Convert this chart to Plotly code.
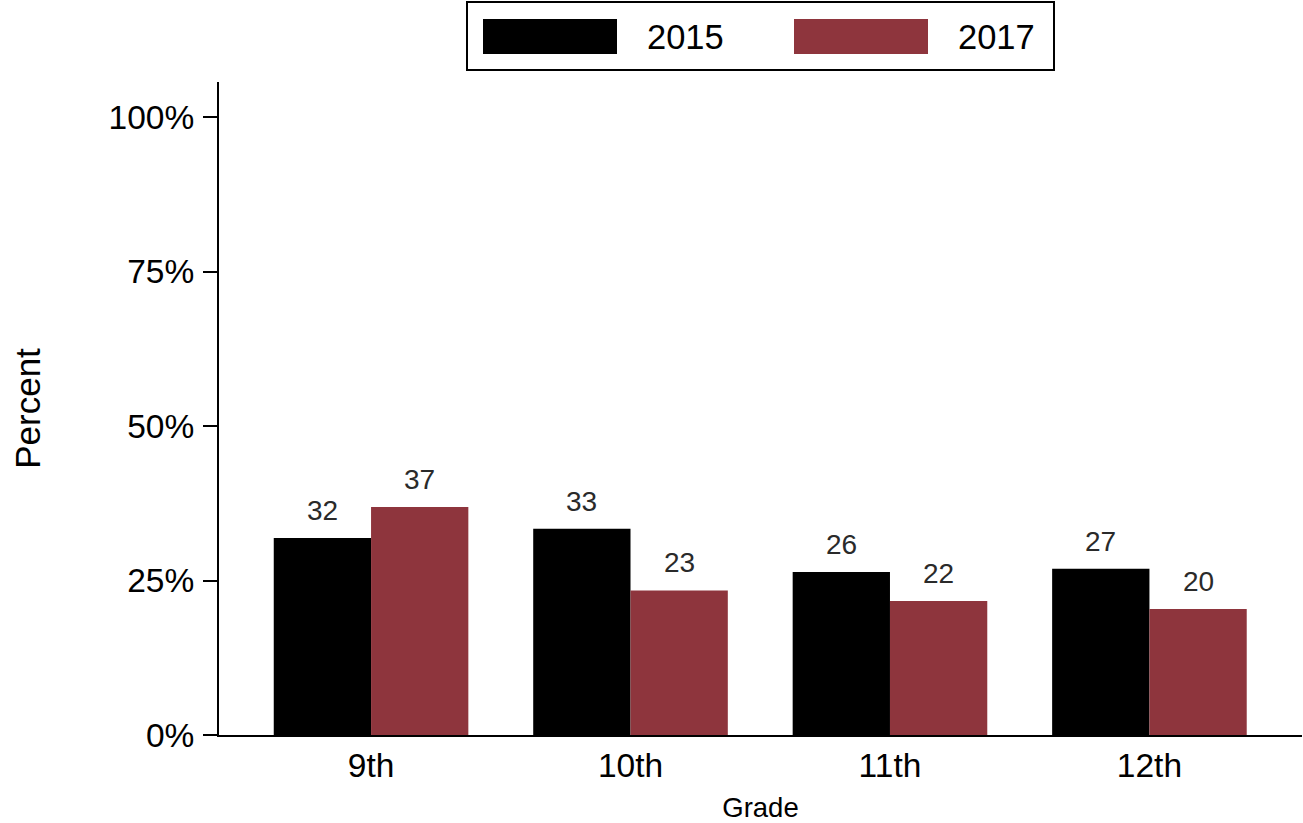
import plotly.graph_objects as go

grades = ["9th", "10th", "11th", "12th"]
vals_2015 = [31.9, 33.4, 26.4, 26.9]
vals_2017 = [36.9, 23.4, 21.7, 20.4]
labels_2015 = ["32", "33", "26", "27"]
labels_2017 = ["37", "23", "22", "20"]
series_names = ["2015", "2017"]
y_ticks = [0, 25, 50, 75, 100]
y_tick_text = ["0%", "25%", "50%", "75%", "100%"]

BLACK = "#000000"
MAROON = "#8e353d"
FONT = "Liberation Sans, Arial, Helvetica, sans-serif"

W, H = 1303, 823
L, R, T, B = 219, 1, 82, 88
pw, ph = W - L - R, H - T - B

def px_x(x):
    return (x - L) / pw

def px_y(y):
    return (H - B - y) / ph

fig = go.Figure()
fig.add_trace(go.Bar(x=grades, y=vals_2015, name=series_names[0],
                     marker=dict(color=BLACK, line=dict(width=0)), showlegend=False))
fig.add_trace(go.Bar(x=grades, y=vals_2017, name=series_names[1],
                     marker=dict(color=MAROON, line=dict(width=0)), showlegend=False))

annotations = []
bargap = 0.25
half = (1 - bargap) / 4
for i, g in enumerate(grades):
    for vals, labs, off in ((vals_2015, labels_2015, -half), (vals_2017, labels_2017, half)):
        annotations.append(dict(x=i + off, y=vals[i], xref="x", yref="y", text=labs[i],
                                showarrow=False, yanchor="middle", yshift=27.5,
                                font=dict(family=FONT, size=28, color="#2a2a2a")))

# custom legend
shapes = [
    dict(type="rect", xref="paper", yref="paper", x0=px_x(467), x1=px_x(1054),
         y0=px_y(70), y1=px_y(2), line=dict(color="black", width=2), fillcolor="white", layer="above"),
    dict(type="rect", xref="paper", yref="paper", x0=px_x(483), x1=px_x(617),
         y0=px_y(54), y1=px_y(19), line=dict(width=0), fillcolor=BLACK, layer="above"),
    dict(type="rect", xref="paper", yref="paper", x0=px_x(794), x1=px_x(928),
         y0=px_y(54), y1=px_y(19), line=dict(width=0), fillcolor=MAROON, layer="above"),
    # x axis line extension under y ticks
    dict(type="line", xref="paper", yref="paper", x0=px_x(205), x1=0, y0=0, y1=0,
         line=dict(color="black", width=2)),
]
annotations.append(dict(x=px_x(645), y=px_y(37), xref="paper", yref="paper", text=series_names[0],
                        showarrow=False, xanchor="left", yanchor="middle",
                        font=dict(family=FONT, size=34.5, color="black")))
annotations.append(dict(x=px_x(956), y=px_y(37), xref="paper", yref="paper", text=series_names[1],
                        showarrow=False, xanchor="left", yanchor="middle",
                        font=dict(family=FONT, size=34.5, color="black")))

fig.update_layout(
    width=W, height=H,
    margin=dict(l=L, r=R, t=T, b=B, pad=0),
    paper_bgcolor="white", plot_bgcolor="white",
    barmode="group", bargap=bargap, bargroupgap=0,
    font=dict(family=FONT, color="black"),
    shapes=shapes, annotations=annotations,
    showlegend=False,
    xaxis=dict(
        range=[-0.586, 3.588], showgrid=False, zeroline=False,
        showline=True, linecolor="black", linewidth=2,
        ticks="", tickfont=dict(size=33.5, color="black"),
        ticklabelstandoff=0,
        title=dict(text="Grade", font=dict(size=27.5, color="black"), standoff=20),
    ),
    yaxis=dict(
        range=[0, 105.7], showgrid=False, zeroline=False,
        showline=True, linecolor="black", linewidth=2,
        ticks="outside", ticklen=14, tickwidth=2, tickcolor="black",
        tickmode="array", tickvals=y_ticks, ticktext=y_tick_text,
        tickfont=dict(size=33.5, color="black"),
        ticklabelstandoff=2,
        title=dict(text="Percent", font=dict(size=35, color="black"), standoff=57),
    ),
)

fig.write_html("out.html", config={"displayModeBar": False},
               post_script="document.body.style.margin='0';document.body.style.padding='0';")
